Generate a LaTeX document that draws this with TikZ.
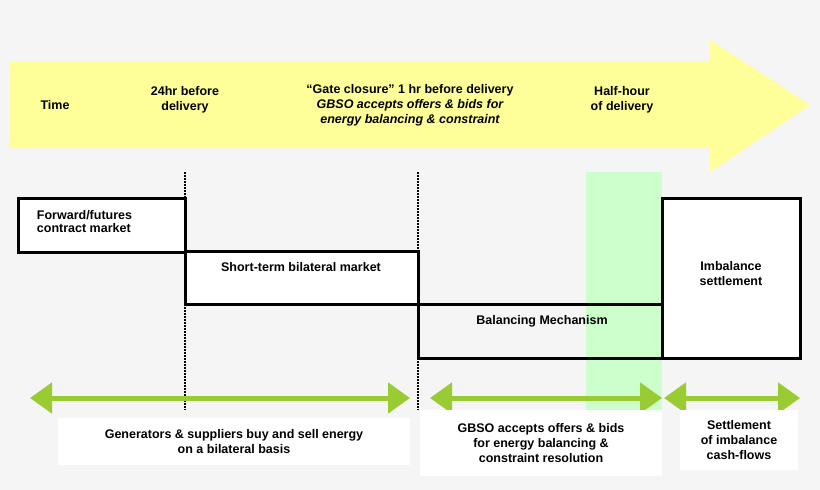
\documentclass[tikz,border=0pt]{standalone}
\usepackage{fontspec}
\setmainfont{Liberation Sans}
\usepackage{xcolor}
\usetikzlibrary{arrows.meta,positioning}
\definecolor{bgGray}{HTML}{F5F5F5}
\definecolor{timeYellow}{HTML}{FFFF99}
\definecolor{halfGreen}{HTML}{CCFFCC}
\definecolor{spanGreen}{HTML}{99CC33}
\tikzset{
  lbl/.style={font=\bfseries\fontsize{12.5}{15}\selectfont, align=center, inner sep=0.75pt},
  mkt/.style={draw=black, line width=3pt, fill=white},
  span/.style={draw=spanGreen, line width=5pt, {Triangle[length=22pt,width=30pt]}-{Triangle[length=22pt,width=30pt]}},
  note/.style={fill=white, lbl},
  gate/.style={densely dotted, line width=2pt}
}
\begin{document}
\begin{tikzpicture}[x=1pt,y=-1pt]
    \useasboundingbox[fill=bgGray] (0,0) rectangle (820,490);
    
    %Shape: time arrow
    \fill[timeYellow] (10,62) -- (710,62) -- (710,40) -- (810,105) -- (710,172) -- (710,148) -- (10,148) -- cycle;
    % Text Node
    \node[lbl] (time) at (55,105) {Time};
    \node[lbl] (dayAhead) at (185,100) {24hr before\\delivery};
    \node[lbl] (gateClose) at (410,105) {``Gate closure'' 1 hr before delivery\\\itshape GBSO accepts offers \& bids for\\\itshape energy balancing \& constraint};
    \node[lbl] (halfHour) at (622,100) {Half-hour\\of delivery};
    
    %Shape: half-hour band
    \fill[halfGreen] (586,172) rectangle (662,410);
    
    %Straight Lines: gate markers
    \draw[gate] (185,172) -- (185,410);
    \draw[gate] (418,172) -- (418,410);
    
    %Shape: market boxes
    \draw[mkt] (18,198) rectangle (185,252);
    \draw[mkt] (185,251) rectangle (418,304);
    \draw[mkt,fill=none] (418,304) rectangle (662,358);
    \draw[mkt] (662,198) rectangle (800,358);
    \node[lbl, anchor=west, align=left] (forward) at (36,222) {Forward/futures\\[-2pt]contract market};
    \node[lbl] (shortTerm) at (301,267) {Short-term bilateral market};
    \node[lbl] (balancing) at (542,321) {Balancing Mechanism};
    \node[lbl] (imbalance) at (731,274) {Imbalance\\settlement};
    
    %Straight Lines: spans
    \coordinate (s1a) at (30,398);  \coordinate (s1b) at (410,398);
    \coordinate (s2a) at (430,398); \coordinate (s2b) at (662,398);
    \coordinate (s3a) at (664,398); \coordinate (s3b) at (800,398);
    \draw[span] (s1a) -- (s1b);
    \draw[span] (s2a) -- (s2b);
    \draw[span] (s3a) -- (s3b);
    
    % Text Node
    \node[note, minimum width=352pt, minimum height=47pt] (bilateral) at (234,441.5) {Generators \& suppliers buy and sell energy\\on a bilateral basis};
    \node[note, minimum width=242pt, minimum height=66pt] (gbso) at (541,443) {GBSO accepts offers \& bids\\for energy balancing \&\\constraint resolution};
    \node[note, minimum width=118pt, minimum height=60pt] (settle) at (739,440) {Settlement\\of imbalance\\cash-flows};
\end{tikzpicture}
\end{document}
